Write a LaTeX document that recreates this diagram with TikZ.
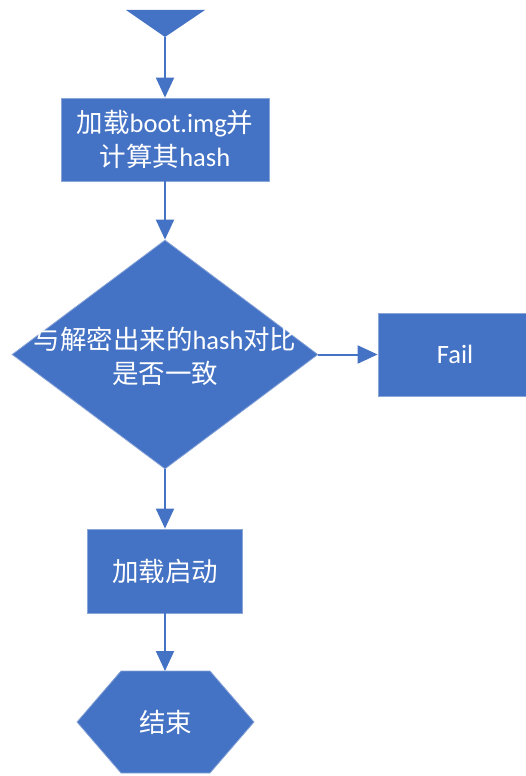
\documentclass[tikz,border=0pt]{standalone}
\usepackage{fontspec}
\setmainfont{Carlito}
\newfontfamily\cjk{Noto Sans CJK SC}
\usetikzlibrary{shapes.geometric,arrows.meta}
\definecolor{obl}{HTML}{4472C4}
\definecolor{oedge}{HTML}{8AA5D8}
\begin{document}
\begin{tikzpicture}[x=1pt,y=-1pt,
  shp/.style={fill=obl,draw=oedge,line width=0.8pt},
  boxnode/.style={shp,rectangle,inner sep=0pt,text=white,align=center,
    font=\fontsize{26.5}{34}\selectfont},
  txt/.style={text=white,align=center,inner sep=0pt,font=\fontsize{26.5}{34}\selectfont},
  conn/.style={draw=obl,line width=2pt,-{Triangle[width=18pt,length=20pt]}}]
\useasboundingbox (0,0) rectangle (525,776);
% partial shape at top
\draw[shp,draw=none] (126,10) -- (205,10) -- (165,37) -- cycle;
\coordinate (topend) at (165,37);
% box 1
\node[boxnode,minimum width=208pt,minimum height=83pt] (load) at (165,139.5)
  {{\cjk 加载}boot.img{\cjk 并}\\{\cjk 计算其}hash};
% decision
\node[shp,diamond,inner sep=0pt,minimum width=306pt,minimum height=229pt] (dec) at (165,354.5) {};
\node[txt] (dectxt) at (165,356.5) {{\cjk 与解密出来的}hash{\cjk 对比}\\{\cjk 是否一致}};
% fail
\node[boxnode,minimum width=154pt,minimum height=83pt] (fail) at (455,354.5) {Fail};
% boot
\node[boxnode,minimum width=155pt,minimum height=84pt] (boot) at (165,571) {{\cjk 加载启动}};
% end hexagon
\draw[shp] (121,671) -- (210,671) -- (254,722) -- (210,773) -- (121,773) -- (77,722) -- cycle;
\coordinate (endtop) at (165,671);
\node[txt] (endtxt) at (165.5,722) {{\cjk 结束}};
% connectors
\draw[conn] (topend) -- (load.north);
\draw[conn] (load.south) -- (dec.north);
\draw[conn] (dec.east) -- (fail.west);
\draw[conn] (dec.south) -- (boot.north);
\draw[conn] (boot.south) -- (endtop);
\end{tikzpicture}
\end{document}
